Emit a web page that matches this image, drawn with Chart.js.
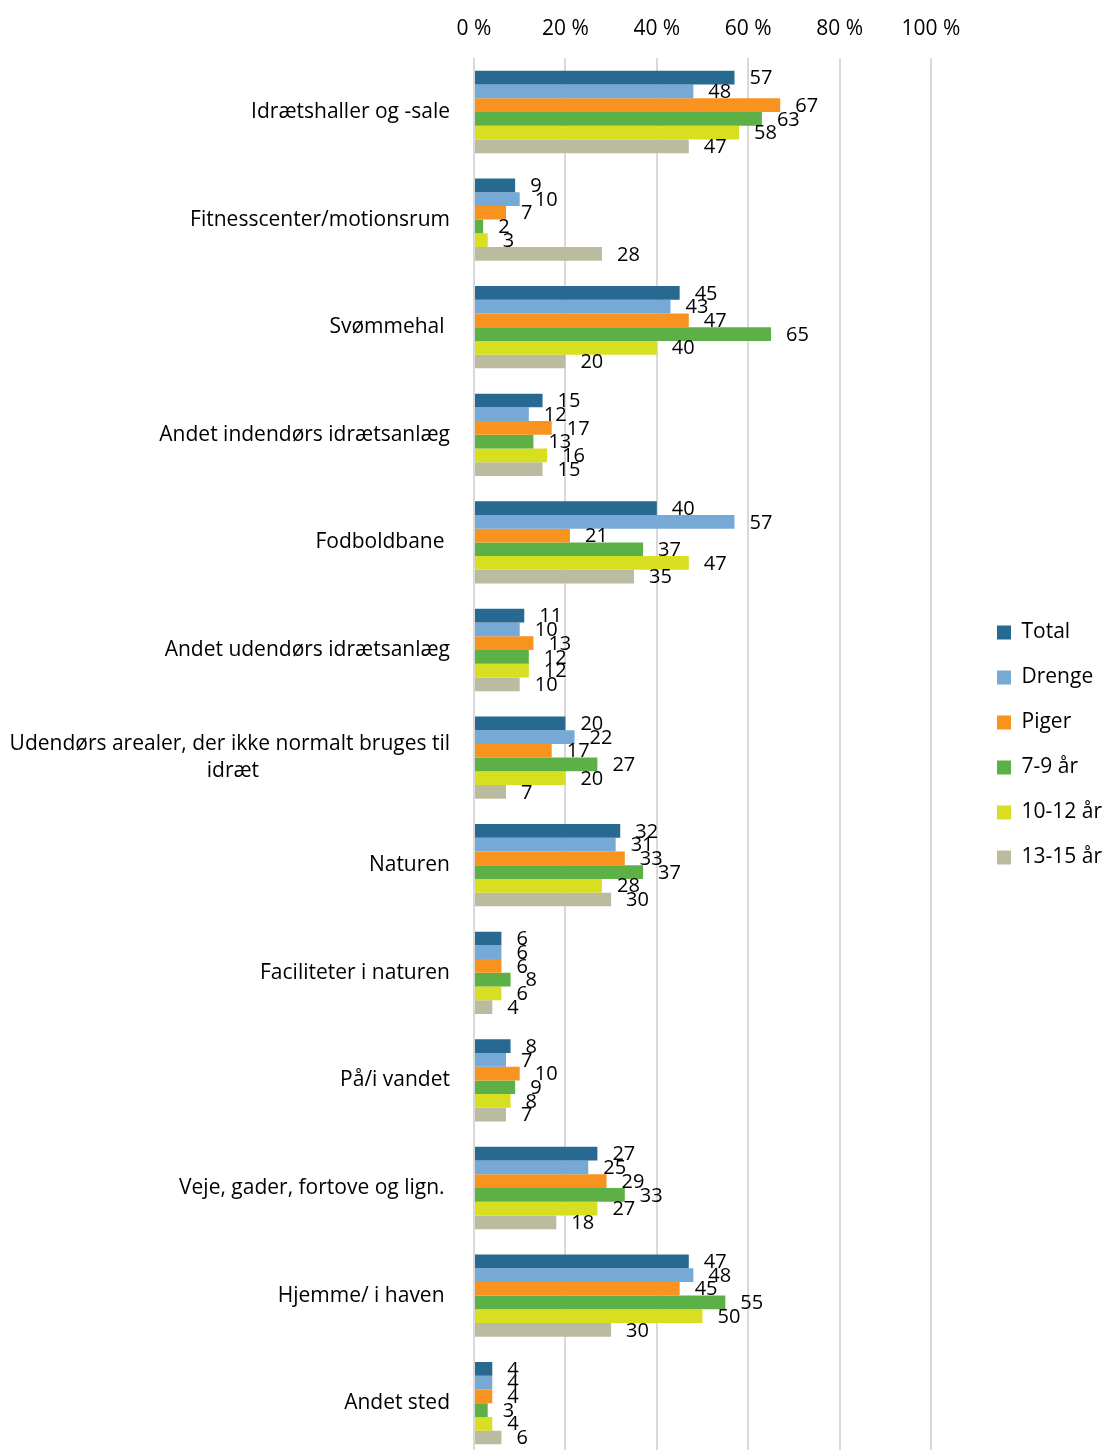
<!DOCTYPE html>
<html>
<head>
<meta charset="utf-8">
<script src="https://cdn.jsdelivr.net/npm/chart.js@4/dist/chart.umd.min.js"></script>
<style>
  html, body { margin: 0; background: #fff; overflow: hidden; height: 1450px; }
  /* canvas runs a little past the window at the bottom, like the original plot area */
  #myChart { display: block; margin-top: -1px; }
</style>
</head>
<body>
<canvas id="myChart" width="1104" height="1458"></canvas>
<script>
// categories (y axis), trailing spaces kept as in the original labels
var categories = [
  'Idrætshaller og -sale',
  'Fitnesscenter/motionsrum',
  'Svømmehal ',
  'Andet indendørs idrætsanlæg',
  'Fodboldbane ',
  'Andet udendørs idrætsanlæg',
  ['Udendørs arealer, der ikke normalt bruges til', 'idræt' + ' '.repeat(35)],
  'Naturen',
  'Faciliteter i naturen',
  'På/i vandet',
  'Veje, gader, fortove og lign. ',
  'Hjemme/ i haven ',
  'Andet sted'
];

// series values (percent)
var total   = [57, 9, 45, 15, 40, 11, 20, 32, 6, 8, 27, 47, 4];
var drenge  = [48, 10, 43, 12, 57, 10, 22, 31, 6, 7, 25, 48, 4];
var piger   = [67, 7, 47, 17, 21, 13, 17, 33, 6, 10, 29, 45, 4];
var aar7_9  = [63, 2, 65, 13, 37, 12, 27, 37, 8, 9, 33, 55, 3];
var aar10_12 = [58, 3, 40, 16, 47, 12, 20, 28, 6, 8, 27, 50, 4];
var aar13_15 = [47, 28, 20, 15, 35, 10, 7, 30, 4, 7, 18, 30, 6];

// x axis ticks
var xTicks = [0, 20, 40, 60, 80, 100];

var fontFamily = '"Open Sans", sans-serif';

var data = {
  labels: categories,
  datasets: [
    { label: 'Total', data: total, backgroundColor: '#286992' },
    { label: 'Drenge', data: drenge, backgroundColor: '#77a9d6' },
    { label: 'Piger', data: piger, backgroundColor: '#f7931e' },
    { label: '7-9 år', data: aar7_9, backgroundColor: '#5db045' },
    { label: '10-12 år', data: aar10_12, backgroundColor: '#d8df20' },
    { label: '13-15 år', data: aar13_15, backgroundColor: '#bbbba0' }
  ]
};

// draws the value next to the end of each bar
var valueLabels = {
  id: 'valueLabels',
  afterDatasetsDraw: function (chart) {
    var ctx = chart.ctx;
    ctx.save();
    ctx.font = '20px ' + fontFamily;
    ctx.fillStyle = '#000';
    ctx.textAlign = 'left';
    ctx.textBaseline = 'middle';
    chart.data.datasets.forEach(function (ds, i) {
      var meta = chart.getDatasetMeta(i);
      meta.data.forEach(function (bar, j) {
        ctx.fillText(ds.data[j], bar.x + 15, bar.y + 1);
      });
    });
    ctx.restore();
  }
};

// legend reports a narrower box so the plot keeps its width (text may run past it)
var narrowLegend = {
  id: 'narrowLegend',
  afterInit: function (chart) {
    var legend = chart.legend;
    var fit = legend.fit;
    legend.fit = function () {
      fit.call(this);
      this.width = 131;
    };
  }
};

function createChart() {
  var ctx = document.getElementById('myChart').getContext('2d');
  new Chart(ctx, {
    type: 'bar',
    data: data,
    plugins: [valueLabels, narrowLegend],
    options: {
      indexAxis: 'y',
      responsive: false,
      animation: false,
      layout: { padding: 0 },
      datasets: {
        bar: { categoryPercentage: 0.765, barPercentage: 1.0, borderWidth: 0 }
      },
      scales: {
        x: {
          position: 'top',
          min: 0,
          max: 100,
          afterBuildTicks: function (scale) {
            scale.ticks = xTicks.map(function (v) { return { value: v }; });
          },
          afterFit: function (scale) {
            scale.paddingRight = 173;
          },
          ticks: {
            font: { family: fontFamily, size: 21 },
            color: '#000',
            padding: 17,
            callback: function (v) { return v + ' %'; }
          },
          grid: { color: '#d9d9d9', lineWidth: 2, drawTicks: false },
          border: { display: false }
        },
        y: {
          afterFit: function (scale) {
            scale.width = 474;
            scale.paddingTop = 0;
            scale.paddingBottom = 0;
          },
          ticks: {
            font: { family: fontFamily, size: 21, lineHeight: 1.3 },
            color: '#000',
            padding: 24
          },
          grid: { display: false, drawTicks: false },
          border: { display: false }
        },
        // empty spacer between the plot and the legend
        gap: {
          type: 'linear',
          position: 'right',
          display: true,
          afterFit: function (scale) {
            scale.width = 42;
          },
          ticks: { display: false },
          grid: { display: false, drawTicks: false },
          border: { display: false }
        }
      },
      plugins: {
        legend: {
          position: 'right',
          title: { display: true, text: '', padding: 11, font: { size: 10 } },
          labels: {
            boxWidth: 14,
            boxHeight: 14,
            padding: 24,
            color: '#000',
            font: { family: fontFamily, size: 21 }
          }
        },
        tooltip: { enabled: false }
      }
    }
  });
}
createChart();
</script>
</body>
</html>
